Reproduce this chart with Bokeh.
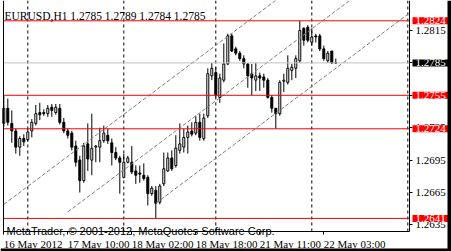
from bokeh.plotting import figure
from bokeh.models import (Range1d, LinearAxis, FixedTicker, Label, BoxAnnotation,
                          ColumnDataSource, PrintfTickFormatter)
from bokeh.embed import file_html
from bokeh.resources import INLINE

# ---- data (EURUSD H1, bar index 0 = 16 May 18:00) ----
opens = [1.2729, 1.2743, 1.2729, 1.2722, 1.2707, 1.2715, 1.2714, 1.2722, 1.2729, 1.2739,
         1.2739, 1.2738, 1.2744, 1.2739, 1.2743, 1.2730, 1.2722, 1.2720, 1.2708, 1.2695,
         1.2676, 1.2710, 1.2695, 1.2707, 1.2707, 1.2713, 1.2718, 1.2711, 1.2702, 1.2697,
         1.2679, 1.2693, 1.2693, 1.2685, 1.2683, 1.2681, 1.2679, 1.2664, 1.2667, 1.2656,
         1.2673, 1.2685, 1.2697, 1.2690, 1.2704, 1.2707, 1.2716, 1.2722, 1.2720, 1.2730,
         1.2715, 1.2736, 1.2773, 1.2776, 1.2753, 1.2769, 1.2784, 1.2810, 1.2798, 1.2794,
         1.2789, 1.2784, 1.2775, 1.2769, 1.2773, 1.2772, 1.2769, 1.2753, 1.2743, 1.2738,
         1.2768, 1.2767, 1.2778, 1.2780, 1.2787, 1.2817, 1.2818, 1.2804, 1.2810, 1.2810,
         1.2798, 1.2787, 1.2796, 1.2785]
highs = [1.2755, 1.2752, 1.2741, 1.2724, 1.2717, 1.2719, 1.2724, 1.2733, 1.2746, 1.2748,
         1.2742, 1.2746, 1.2747, 1.2747, 1.2747, 1.2734, 1.2724, 1.2722, 1.2713, 1.2699,
         1.2711, 1.2729, 1.2738, 1.2709, 1.2725, 1.2727, 1.2724, 1.2715, 1.2707, 1.2699,
         1.2701, 1.2699, 1.2708, 1.2690, 1.2690, 1.2692, 1.2681, 1.2671, 1.2671, 1.2673,
         1.2702, 1.2702, 1.2704, 1.2718, 1.2729, 1.2724, 1.2727, 1.2730, 1.2736, 1.2738,
         1.2738, 1.2780, 1.2785, 1.2781, 1.2775, 1.2803, 1.2812, 1.2812, 1.2800, 1.2796,
         1.2792, 1.2785, 1.2784, 1.2785, 1.2776, 1.2775, 1.2771, 1.2755, 1.2743, 1.2769,
         1.2775, 1.2792, 1.2784, 1.2792, 1.2824, 1.2818, 1.2820, 1.2817, 1.2812, 1.2812,
         1.2801, 1.2796, 1.2796, 1.2789]
lows = [1.2726, 1.2727, 1.2711, 1.2701, 1.2699, 1.2708, 1.2712, 1.2716, 1.2727, 1.2732,
        1.2736, 1.2735, 1.2735, 1.2737, 1.2728, 1.2720, 1.2715, 1.2704, 1.2689, 1.2665,
        1.2674, 1.2685, 1.2681, 1.2693, 1.2693, 1.2711, 1.2710, 1.2690, 1.2695, 1.2664,
        1.2678, 1.2692, 1.2682, 1.2673, 1.2674, 1.2676, 1.2653, 1.2662, 1.2641, 1.2654,
        1.2671, 1.2684, 1.2685, 1.2688, 1.2701, 1.2702, 1.2701, 1.2717, 1.2718, 1.2713,
        1.2713, 1.2734, 1.2769, 1.2753, 1.2748, 1.2767, 1.2783, 1.2795, 1.2792, 1.2787,
        1.2780, 1.2762, 1.2755, 1.2759, 1.2759, 1.2762, 1.2752, 1.2739, 1.2724, 1.2736,
        1.2758, 1.2765, 1.2769, 1.2771, 1.2785, 1.2801, 1.2804, 1.2801, 1.2804, 1.2796,
        1.2787, 1.2785, 1.2784, 1.2784]
closes = [1.2743, 1.2730, 1.2722, 1.2707, 1.2715, 1.2712, 1.2721, 1.2730, 1.2738, 1.2737,
          1.2738, 1.2743, 1.2741, 1.2744, 1.2730, 1.2722, 1.2718, 1.2707, 1.2693, 1.2676,
          1.2708, 1.2696, 1.2706, 1.2708, 1.2713, 1.2720, 1.2713, 1.2702, 1.2697, 1.2693,
          1.2693, 1.2697, 1.2684, 1.2681, 1.2682, 1.2678, 1.2664, 1.2669, 1.2655, 1.2671,
          1.2687, 1.2697, 1.2687, 1.2706, 1.2710, 1.2716, 1.2721, 1.2719, 1.2730, 1.2716,
          1.2734, 1.2775, 1.2780, 1.2755, 1.2771, 1.2784, 1.2810, 1.2796, 1.2794, 1.2789,
          1.2784, 1.2773, 1.2771, 1.2773, 1.2771, 1.2769, 1.2753, 1.2743, 1.2738, 1.2767,
          1.2769, 1.2780, 1.2781, 1.2789, 1.2815, 1.2806, 1.2806, 1.2809, 1.2809, 1.2798,
          1.2789, 1.2794, 1.2785, 1.2785]
bars = list(range(len(opens)))

time_tick_bars = [0, 16, 32, 48, 64, 80]
time_tick_labels = ["16 May 2012", "17 May 10:00", "18 May 02:00",
                    "18 May 18:00", "21 May 11:00", "22 May 03:00"]
day_separator_bars = [6, 30, 53, 77, 101]
price_ticks = [1.2635, 1.2665, 1.2695, 1.2725, 1.2755, 1.2785, 1.2815]

level_prices = [1.2824, 1.2755, 1.2724, 1.2641]
bid_price = 1.2785

channel_start_bar = [0, 16, 38]
channel_start_price = [1.2654, 1.2647, 1.2655]
channel_end_bar = [70, 90, 101.425]
channel_end_price = [1.28485, 1.28526, 1.28312]

header = "EURUSD,H1   1.2785 1.2789 1.2784 1.2785"
footer = "MetaTrader, \u00a9 2001-2012, MetaQuotes Software Corp."

# ---- layout of the chart area (bar / price units) ----
view_x = (-0.825, 111.925)          # whole window, 4 px per bar
view_y = (1.261037, 1.284278)       # whole window
area_left, area_right = -0.075, 101.425       # price area (left border .. price scale)
area_bottom, area_top = 1.262889, 1.284278     # price area (time scale .. top)
window_edge_x = 110.925             # dark window edge on the right
window_edge_y = 1.261315            # dark window edge at the bottom

AX_FONT = "Liberation Sans Narrow"

p = figure(width=451, height=251, output_backend="svg", toolbar_location=None,
           x_range=Range1d(*view_x), y_range=Range1d(*view_y),
           x_axis_location=None, y_axis_location=None,
           min_border=0, min_border_left=0, min_border_right=0,
           min_border_top=0, min_border_bottom=0,
           background_fill_color="white", border_fill_color="white")
p.outline_line_color = None
p.grid.visible = False

# ---- axes (fixed inside the window like the terminal's scales) ----
left_ax = LinearAxis(fixed_location=area_left, bounds=(area_bottom, area_top),
                     ticker=FixedTicker(ticks=[]), major_tick_out=0, major_tick_in=0,
                     minor_tick_out=0, minor_tick_in=0, axis_line_color="black")
p.add_layout(left_ax, "left")

right_ax = LinearAxis(fixed_location=area_right, bounds=(area_bottom, area_top),
                      ticker=FixedTicker(ticks=price_ticks),
                      formatter=PrintfTickFormatter(format="%.4f"),
                      major_tick_out=3, major_tick_in=0, minor_tick_out=0, minor_tick_in=0,
                      major_label_standoff=3, axis_line_color="black",
                      major_tick_line_color="black",
                      major_label_text_font=AX_FONT, major_label_text_font_size="11px",
                      major_label_text_color="black")
p.add_layout(right_ax, "right")

bottom_ax = LinearAxis(fixed_location=area_bottom, bounds=(area_left, area_right),
                       ticker=FixedTicker(ticks=time_tick_bars),
                       major_label_overrides={b: "" for b in time_tick_bars},
                       major_tick_out=3, major_tick_in=0, minor_tick_out=0, minor_tick_in=0,
                       axis_line_color="black", major_tick_line_color="black")
p.add_layout(bottom_ax, "below")

# time labels start at their tick, as in the terminal
for b, t in zip(time_tick_bars, time_tick_labels):
    p.add_layout(Label(x=b, x_units="data", y=8, y_units="screen", text=t,
                       text_font=AX_FONT, text_font_size="11px", text_color="black",
                       text_align="left", text_baseline="alphabetic"))

# ---- day separators (behind candles) ----
p.segment(x0=day_separator_bars, y0=[area_bottom] * len(day_separator_bars),
          x1=day_separator_bars, y1=[area_top] * len(day_separator_bars),
          line_color="black", line_dash="3 3", line_width=1)

# ---- candles ----
src = ColumnDataSource(dict(x=bars, o=opens, h=highs, l=lows, c=closes,
                            top=[max(o, c) for o, c in zip(opens, closes)],
                            bot=[min(o, c) for o, c in zip(opens, closes)],
                            fill=["white" if c >= o else "black" for o, c in zip(opens, closes)]))
p.segment(x0="x", y0="l", x1="x", y1="h", source=src, line_color="black", line_width=1)
p.vbar(x="x", width=0.5, top="top", bottom="bot", source=src,
       fill_color="fill", line_color="black", line_width=1)

# ---- channel lines ----
p.segment(x0=channel_start_bar, y0=channel_start_price, x1=channel_end_bar,
          y1=channel_end_price, line_color="#808080", line_width=1, line_dash="4 2")

# ---- horizontal levels ----
p.segment(x0=[area_left], y0=[bid_price], x1=[area_right], y1=[bid_price],
          line_color="#c0c0c0", line_width=1)
p.segment(x0=[area_left] * len(level_prices), y0=level_prices,
          x1=[area_right] * len(level_prices), y1=level_prices,
          line_color="#ff0000", line_width=1)

# ---- price boxes on the right scale ----
box_x = 412
for lv in level_prices:
    p.add_layout(Label(x=box_x, x_units="screen", y=lv, y_units="data",
                       text=f"{lv:.4f}", text_font=AX_FONT, text_font_size="11px",
                       text_color="white", text_baseline="middle", text_align="left",
                       background_fill_color="#ff0000",
                       padding=dict(left=3, right=3, top=0, bottom=0)))
p.add_layout(Label(x=box_x, x_units="screen", y=bid_price, y_units="data",
                   text=f"{bid_price:.4f}", text_font=AX_FONT, text_font_size="11px",
                   text_color="white", text_baseline="middle", text_align="left",
                   background_fill_color="black",
                   padding=dict(left=3, right=3, top=0, bottom=0)))

# ---- header / footer texts ----
p.add_layout(Label(x=4, y=235.5, x_units="screen", y_units="screen", text=header,
                   text_font=AX_FONT, text_font_size="11.5px", text_color="black",
                   text_baseline="alphabetic", text_align="left"))
p.add_layout(Label(x=6, y=21, x_units="screen", y_units="screen", text=footer,
                   text_font="Liberation Sans", text_font_size="11px", text_color="black",
                   text_baseline="alphabetic", text_align="left"))

# ---- dark window edges ----
p.add_layout(BoxAnnotation(left=window_edge_x, fill_color="black", fill_alpha=1,
                           line_color=None))
p.add_layout(BoxAnnotation(top=window_edge_y, fill_color="black", fill_alpha=1,
                           line_color=None))

open("out.html", "w").write(file_html(p, INLINE))
